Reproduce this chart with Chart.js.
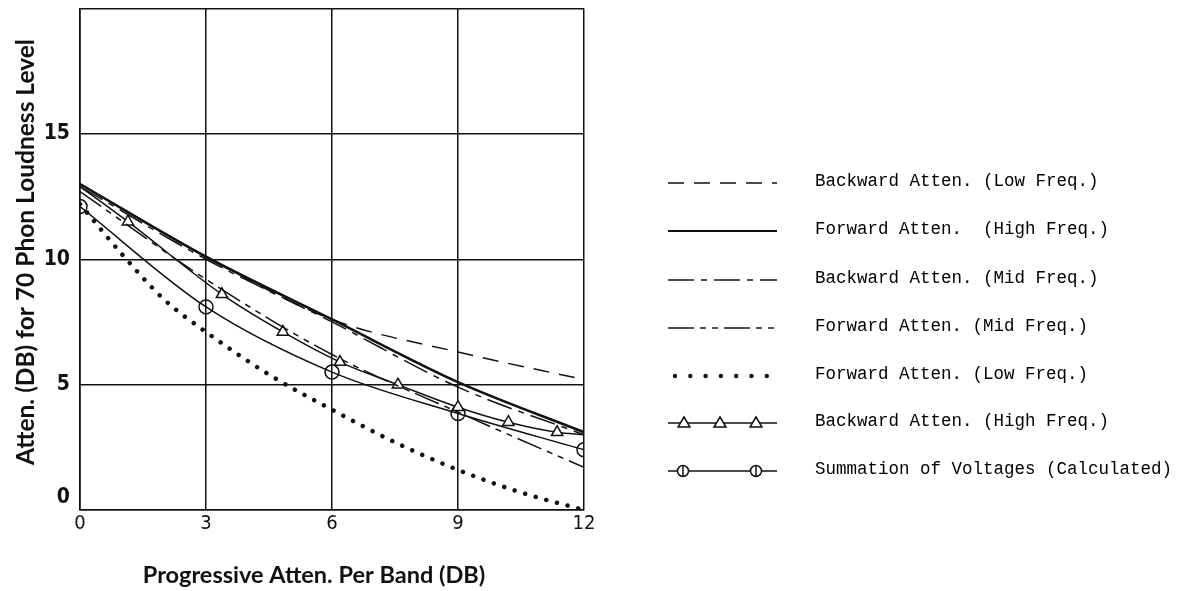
<!DOCTYPE html>
<html>
<head>
<meta charset="utf-8">
<script src="https://cdn.jsdelivr.net/npm/chart.js@4/dist/chart.umd.min.js"></script>
<style>
  html, body { margin: 0; padding: 0; background: #fff; }
  #wrap { width: 1190px; height: 591px; }
</style>
</head>
<body>
<div id="wrap"><canvas id="chart" width="1190" height="591"></canvas></div>
<script>
// Axis ticks
const xTicks = [0, 3, 6, 9, 12];
const yTicks = [0, 5, 10, 15];

// Series (x = progressive atten. per band, y = atten.)
const gridX = [0, 3, 6, 9, 12];
const backLowY = [13.0, 10.1, 7.6, 6.3, 5.2];
const fwdHighY = [13.0, 10.1, 7.6, 5.1, 3.1];
const backMidY = [12.9, 10.0, 7.5, 4.9, 3.0];
const fwdMidY = [12.7, 9.2, 6.2, 3.9, 1.7];

const fwdLowX = [0, 1, 2, 3, 4.5, 6, 7.5, 9, 10.5, 12];
const fwdLowY = [12.2, 10.2, 8.4, 7.1, 5.4, 4.0, 2.7, 1.6, 0.7, 0.0];

const backHighX = [0, 1.14, 3.38, 4.83, 6.19, 7.57, 9.0, 10.2, 11.36, 12];
const backHighY = [12.9, 11.5, 8.6, 7.1, 5.9, 5.0, 4.1, 3.5, 3.1, 3.0];

const sumX = [0, 3, 6, 9, 12];
const sumY = [12.1, 8.1, 5.5, 3.85, 2.4];

const labels = [
  'Backward Atten. (Low Freq.)',
  'Forward Atten.  (High Freq.)',
  'Backward Atten. (Mid Freq.)',
  'Forward Atten. (Mid Freq.)',
  'Forward Atten. (Low Freq.)',
  'Backward Atten. (High Freq.)',
  'Summation of Voltages (Calculated)'
];

const pts = (xs, ys) => xs.map((x, i) => ({ x: x, y: ys[i] }));

const base = {
  borderColor: '#111',
  backgroundColor: '#fff',
  borderWidth: 1.5,
  pointRadius: 0,
  fill: false,
  cubicInterpolationMode: 'monotone'
};

const datasets = [
  Object.assign({}, base, { label: labels[0], data: pts(gridX, backLowY), borderDash: [16, 10] }),
  Object.assign({}, base, { label: labels[1], data: pts(gridX, fwdHighY), borderWidth: 2.6 }),
  Object.assign({}, base, { label: labels[2], data: pts(gridX, backMidY), borderDash: [26, 7, 6, 7] }),
  Object.assign({}, base, { label: labels[3], data: pts(gridX, fwdMidY), borderDash: [26, 6, 6, 6, 6, 6] }),
  Object.assign({}, base, { label: labels[4], data: pts(fwdLowX, fwdLowY), borderWidth: 4.5,
    borderDash: [0.01, 11], borderCapStyle: 'round' }),
  Object.assign({}, base, { label: labels[5], data: pts(backHighX, backHighY), pointStyle: 'triangle',
    pointRadius: backHighX.map((x, i) => (i === 0 || i === backHighX.length - 1) ? 0 : 6.5),
    pointBorderWidth: 1.5, pointBackgroundColor: '#fff' }),
  Object.assign({}, base, { label: labels[6], data: pts(sumX, sumY), pointStyle: 'circle',
    pointRadius: 7, pointBorderWidth: 1.5, pointBackgroundColor: 'rgba(255,255,255,0)' })
];

// Legend on the right, drawn from the dataset styles
const legendRows = [183, 231, 280, 328, 376, 423, 471];
const sideLegend = {
  id: 'sideLegend',
  afterDraw(chart) {
    const ctx = chart.ctx;
    const x0 = 668, x1 = 777, tx = 815;
    ctx.save();
    chart.data.datasets.forEach((ds, i) => {
      const y = legendRows[i];
      ctx.strokeStyle = '#111';
      ctx.lineWidth = Math.min(ds.borderWidth, 2);
      ctx.setLineDash(ds.borderDash || []);
      if (i === 4) {
        ctx.fillStyle = '#111';
        for (let k = 0; k < 7; k++) {
          ctx.beginPath();
          ctx.arc(x0 + 7 + k * 15.3, y, 2.2, 0, Math.PI * 2);
          ctx.fill();
        }
      } else {
        ctx.beginPath();
        ctx.moveTo(x0, y);
        ctx.lineTo(x1, y);
        ctx.stroke();
      }
      ctx.setLineDash([]);
      ctx.lineWidth = 1.5;
      if (i === 5) {
        [684, 720, 756].forEach(px => {
          ctx.beginPath();
          ctx.moveTo(px, y - 6);
          ctx.lineTo(px + 6, y + 4);
          ctx.lineTo(px - 6, y + 4);
          ctx.closePath();
          ctx.fillStyle = '#fff';
          ctx.fill();
          ctx.stroke();
        });
      }
      if (i === 6) {
        [683, 756].forEach(px => {
          ctx.beginPath();
          ctx.arc(px, y, 5.5, 0, Math.PI * 2);
          ctx.fillStyle = '#fff';
          ctx.fill();
          ctx.stroke();
          ctx.beginPath();
          ctx.moveTo(px, y - 5.5);
          ctx.lineTo(px, y + 5.5);
          ctx.stroke();
        });
      }
      ctx.fillStyle = '#000';
      ctx.font = '17.5px "Liberation Mono", "DejaVu Sans Mono", monospace';
      ctx.textAlign = 'left';
      ctx.textBaseline = 'middle';
      ctx.fillText(ds.label, tx, y - 2);
    });
    // axis titles, placed as on the original sheet
    ctx.fillStyle = '#111';
    ctx.font = 'bold 23.5px Lato, "Open Sans", sans-serif';
    ctx.textAlign = 'center';
    ctx.textBaseline = 'middle';
    ctx.fillText('Progressive Atten. Per Band (DB)', 314, 575);
    ctx.translate(26, 252);
    ctx.rotate(-Math.PI / 2);
    ctx.font = 'bold 24.5px Lato, "Open Sans", sans-serif';
    ctx.fillText('Atten. (DB) for 70 Phon Loudness Level', 0, 0);
    ctx.restore();
  }
};

new Chart(document.getElementById('chart').getContext('2d'), {
  type: 'line',
  data: { datasets: datasets },
  options: {
    responsive: false,
    animation: false,
    devicePixelRatio: 1,
    layout: { padding: { top: 8, right: 606, left: 0, bottom: 0 } },
    plugins: { legend: { display: false }, tooltip: { enabled: false } },
    scales: {
      x: {
        type: 'linear',
        min: 0, max: 12,
        afterFit: s => { s.height = 81; s.paddingLeft = 0; s.paddingRight = 0; },
        afterBuildTicks: s => { s.ticks = xTicks.map(v => ({ value: v })); },
        grid: { color: '#111', lineWidth: 1.5, drawTicks: false },
        border: { color: '#111', width: 1.6 },
        ticks: { color: '#111', padding: 2, font: { family: '"Liberation Sans Narrow", "DejaVu Sans Condensed", sans-serif', size: 20 } }
      },
      y: {
        min: 0, max: 20,
        afterFit: s => { s.width = 80; s.paddingTop = 0; s.paddingBottom = 0; },
        afterBuildTicks: s => { s.ticks = yTicks.concat([20]).map(v => ({ value: v })); },
        grid: { color: '#111', lineWidth: 1.5, drawTicks: false },
        border: { color: '#111', width: 1.6 },
        ticks: {
          color: '#111', padding: 10,
          callback: v => (v === 0 ? ['0', ''] : (yTicks.includes(v) ? String(v) : '')),
          font: { family: '"Liberation Sans Narrow", "DejaVu Sans Condensed", sans-serif', size: 21, weight: 'bold' }
        }
      }
    }
  },
  plugins: [sideLegend]
});
</script>
</body>
</html>
